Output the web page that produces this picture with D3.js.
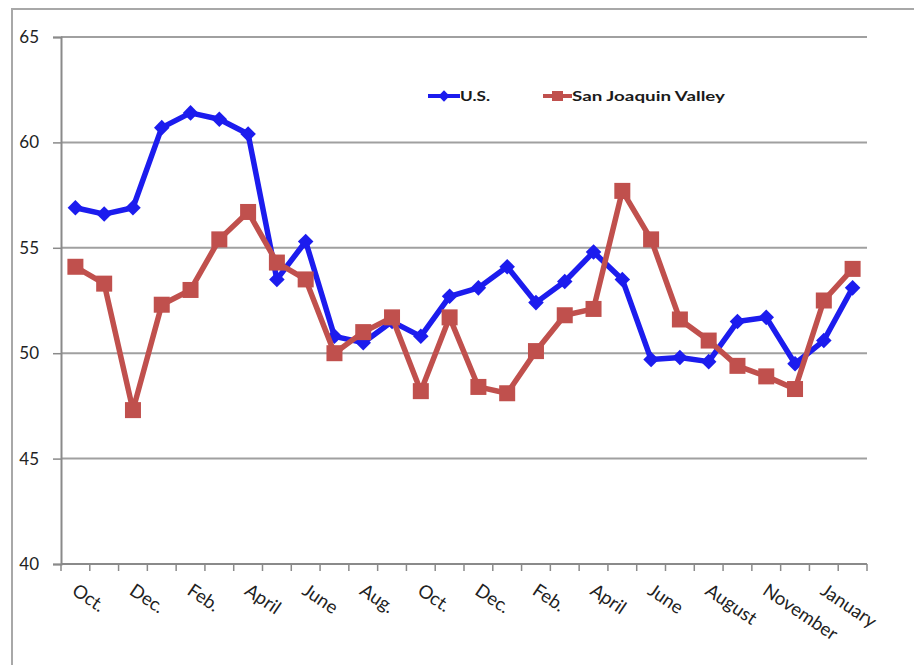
<!DOCTYPE html>
<html>
<head>
<meta charset="utf-8">
<script src="https://cdn.jsdelivr.net/npm/d3@7"></script>
<style>
  html, body { margin: 0; padding: 0; background: #fff; }
  svg { display: block; }
</style>
</head>
<body>
<svg id="chart" width="914" height="665"></svg>
<script>
// ---- data ----
const categories = d3.range(28).map(i => "p" + i);
const tickLabels = ["Oct.","","Dec.","","Feb.","","April","","June","","Aug.","",
                    "Oct.","","Dec.","","Feb.","","April","","June","","August","",
                    "November","","January",""];
const usValues  = [56.9,56.6,56.9,60.7,61.4,61.1,60.4,53.5,55.3,50.8,50.5,51.5,50.8,52.7,
                   53.1,54.1,52.4,53.4,54.8,53.5,49.7,49.8,49.6,51.5,51.7,49.5,50.6,53.1];
const sjvValues = [54.1,53.3,47.3,52.3,53.0,55.4,56.7,54.3,53.5,50.0,51.0,51.7,48.2,51.7,
                   48.4,48.1,50.1,51.8,52.1,57.7,55.4,51.6,50.6,49.4,48.9,48.3,52.5,54.0];
const yTicks = [40,45,50,55,60,65];
const seriesNames = ["U.S.", "San Joaquin Valley"];

// ---- layout ----
(function () {
const svg = d3.select("#chart");
const pLeft = 61, pRight = 867, pTop = 37, pBottom = 564;
const font = "Lato, 'Open Sans', 'Liberation Sans', sans-serif";

const x = d3.scaleBand().domain(categories).range([pLeft, pRight]).padding(0);
const y = d3.scaleLinear().domain([40, 65]).range([pBottom, pTop]);
const cx = c => x(c) + x.bandwidth() / 2;

// frame
svg.append("path").attr("d", "M12,665V9H914")
  .attr("fill", "none").attr("stroke", "#a8a8a8").attr("stroke-width", 2);

// gridlines
svg.append("g").selectAll("line").data(yTicks.filter(t => t > 40)).join("line")
  .attr("x1", pLeft).attr("x2", pRight)
  .attr("y1", d => y(d)).attr("y2", d => y(d))
  .attr("stroke", "#a0a0a0").attr("stroke-width", 2);

// y axis
const yAxis = svg.append("g").attr("transform", `translate(${pLeft},0)`)
  .call(d3.axisLeft(y).tickValues(yTicks).tickSize(8).tickPadding(14));
yAxis.select(".domain").attr("stroke", "#8a8a8a").attr("stroke-width", 2);
yAxis.selectAll(".tick line").attr("stroke", "#8a8a8a").attr("stroke-width", 1.5);
yAxis.selectAll(".tick text").attr("font-family", font).attr("font-size", 17).attr("fill", "#222");

// x axis
const xg = svg.append("g");
xg.append("line").attr("x1", pLeft).attr("x2", pRight).attr("y1", y(40)).attr("y2", y(40))
  .attr("stroke", "#8a8a8a").attr("stroke-width", 2);
const bounds = categories.map(c => x(c)).concat([x.range()[1]]);
xg.selectAll("line.tk").data(bounds).join("line").attr("class", "tk")
  .attr("x1", d => d).attr("x2", d => d).attr("y1", y(40)).attr("y2", y(40) + 7)
  .attr("stroke", "#8a8a8a").attr("stroke-width", 1.5);
xg.selectAll("text").data(categories.filter((c, i) => tickLabels[i] !== "")).join("text")
  .attr("transform", c => `translate(${cx(c) - 1},${y(40) + 24}) rotate(34)`)
  .attr("font-family", font).attr("font-size", 18.5).attr("fill", "#222")
  .attr("text-anchor", "start").attr("dy", "0.35em")
  .text(c => tickLabels[categories.indexOf(c)]);

// series
const blue = "#1c1cee", red = "#c0504d";
const line = d3.line().x((d, i) => cx(categories[i])).y(d => y(d));

function drawSeries(vals, color, shape) {
  svg.append("path").datum(vals).attr("d", line)
    .attr("fill", "none").attr("stroke", color).attr("stroke-width", 5.5)
    .attr("stroke-linejoin", "round");
  const g = svg.append("g");
  vals.forEach((v, i) => {
    const px = cx(categories[i]), py = y(v);
    if (shape === "diamond") {
      g.append("rect").attr("x", -5.5).attr("y", -5.5).attr("width", 11).attr("height", 11)
        .attr("fill", color).attr("transform", `translate(${px},${py}) rotate(45)`);
    } else {
      g.append("rect").attr("x", px - 8).attr("y", py - 8).attr("width", 16).attr("height", 16)
        .attr("fill", color);
    }
  });
}
drawSeries(usValues, blue, "diamond");
drawSeries(sjvValues, red, "square");

// legend
const lg = svg.append("g");
const legendY = 96;
lg.append("line").attr("x1", 428).attr("x2", 460).attr("y1", legendY).attr("y2", legendY)
  .attr("stroke", blue).attr("stroke-width", 4);
lg.append("rect").attr("x", -4).attr("y", -4).attr("width", 8).attr("height", 8)
  .attr("fill", blue).attr("transform", `translate(444,${legendY}) rotate(45)`);
lg.append("text").attr("x", 460).attr("y", legendY).attr("dy", "0.36em")
  .attr("font-family", font).attr("font-size", 13).attr("font-weight", "bold")
  .attr("fill", "#1a1a1a").attr("textLength", 30).attr("lengthAdjust", "spacingAndGlyphs")
  .text(seriesNames[0]);
lg.append("line").attr("x1", 543).attr("x2", 572).attr("y1", legendY).attr("y2", legendY)
  .attr("stroke", red).attr("stroke-width", 4);
lg.append("rect").attr("x", 552).attr("y", legendY - 5).attr("width", 11).attr("height", 10)
  .attr("fill", red);
lg.append("text").attr("x", 572).attr("y", legendY).attr("dy", "0.36em")
  .attr("font-family", font).attr("font-size", 14).attr("font-weight", "bold")
  .attr("fill", "#1a1a1a").attr("textLength", 153).attr("lengthAdjust", "spacingAndGlyphs")
  .text(seriesNames[1]);
})();
</script>
</body>
</html>
